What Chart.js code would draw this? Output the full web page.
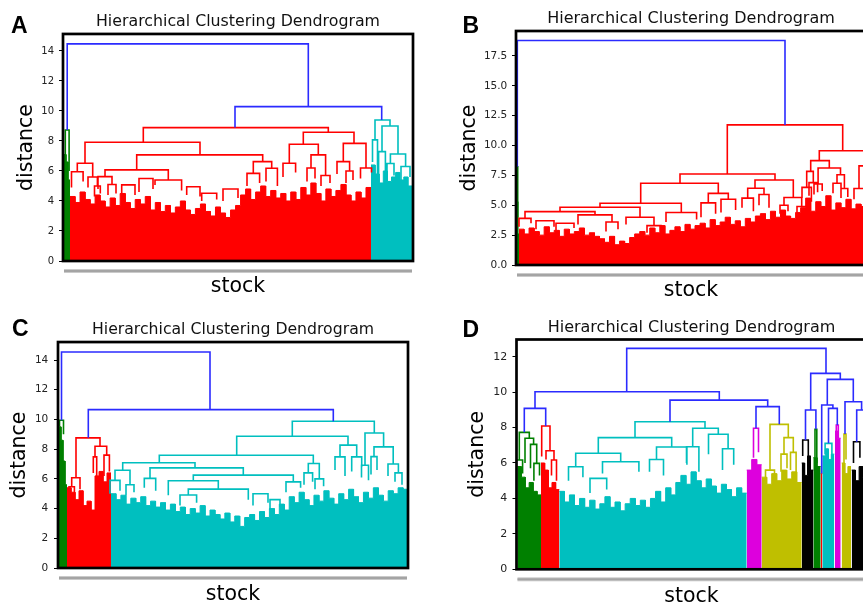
<!DOCTYPE html>
<html>
<head>
<meta charset="utf-8">
<title>Hierarchical Clustering Dendrograms</title>
<script src="https://cdn.jsdelivr.net/npm/chart.js@4.4.1/dist/chart.umd.min.js"></script>
<style>
  html, body { margin: 0; padding: 0; background: #fff; }
  body { position: relative; width: 863px; height: 606px; overflow: hidden; }
  canvas { position: absolute; }
  .letter { position: absolute; z-index: 2; font: bold 23px 'Liberation Sans', Arial, sans-serif; line-height: 23px; color: #000; }
</style>
</head>
<body>
<div class="letter" style="left:11px;top:13.5px">A</div>
<div class="letter" style="left:462.5px;top:13.5px">B</div>
<div class="letter" style="left:12px;top:317.2px">C</div>
<div class="letter" style="left:462.5px;top:317.5px">D</div>
<canvas id="chartA" width="440" height="300" style="left:0;top:0"></canvas>
<canvas id="chartB" width="440" height="305" style="left:440px;top:0"></canvas>
<canvas id="chartC" width="440" height="304" style="left:0;top:305px"></canvas>
<canvas id="chartD" width="440" height="304" style="left:440px;top:305px"></canvas>
<script>
// Merges: [left leaf pos, right leaf pos, merge distance,
// distance of left child, distance of right child, cluster]  (leaf axis 0-350)
// cluster 0 = links above the colour threshold

// --- A ---
const linksA = [
  [4.2, 245.3, 14.47, 8.73, 10.29, 0],
  [172, 318.7, 10.29, 8.89, 9.4, 0],
  [2.3, 6.1, 8.73, 7.1, 6.0, 1],
  [80.3, 265.3, 8.89, 7.91, 8.58, 2],
  [22, 137, 7.91, 6.51, 7.07, 2],
  [240.3, 291, 8.58, 7.78, 7.84, 2],
  [14.3, 29.7, 6.51, 5.95, 5.6, 2],
  [73.7, 199.7, 7.07, 6.07, 6.62, 2],
  [42, 105.3, 6.07, 5.62, 5.4, 2],
  [190.3, 208.7, 6.62, 5.84, 6.18, 2],
  [226.3, 255.3, 7.78, 6.51, 7.07, 2],
  [280.3, 303, 7.84, 6.62, 6.2, 2],
  [8.5, 20.1, 5.95, 4.9, 5.3, 2],
  [25, 34.4, 5.6, 4.9, 5.0, 2],
  [35, 49, 5.62, 4.8, 5.1, 2],
  [45, 53, 5.1, 4.4, 4.5, 2],
  [31.5, 37.3, 5.0, 4.3, 4.5, 2],
  [76, 90, 5.5, 4.6, 4.8, 2],
  [92, 118.6, 5.4, 5.07, 4.7, 2],
  [58.7, 72, 5.07, 4.5, 4.4, 2],
  [123.7, 137, 4.95, 4.4, 4.3, 2],
  [138.7, 153.7, 4.51, 4.0, 4.1, 2],
  [160, 175, 4.8, 4.0, 4.2, 2],
  [184, 196.6, 5.84, 5.0, 5.2, 2],
  [203, 214.4, 6.18, 5.3, 5.0, 2],
  [220, 232.6, 6.51, 5.6, 5.9, 2],
  [248, 262.6, 7.07, 6.2, 5.7, 2],
  [274, 286.6, 6.62, 5.8, 6.0, 2],
  [297.5, 308.5, 6.2, 5.5, 5.9, 2],
  [244, 252, 6.2, 5.3, 5.5, 2],
  [258, 267, 5.7, 5.0, 5.2, 2],
  [283, 290, 6.0, 5.2, 5.4, 2],
  [312, 327, 9.4, 8.07, 9.0, 3],
  [309.5, 314.5, 8.07, 6.6, 5.8, 3],
  [319, 335, 9.0, 7.29, 7.13, 3],
  [315.6, 322.4, 7.29, 5.8, 6.0, 3],
  [327.4, 342.6, 7.13, 6.5, 6.3, 3],
  [324, 331, 6.5, 5.5, 5.7, 3],
  [338, 347, 6.3, 5.4, 5.6, 3]
];
// dense lower part of each cluster: leaf span and merge heights read along it
const bandFromA = [1, 7, 308];
const bandToA = [7, 308, 349];
const bandClusterA = [1, 2, 3];
const bandHeightsA = [
  [7.1, 6.6, 5.4],
  [4.3, 3.9, 4.6, 4.1, 3.8, 4.4, 4.0, 3.6, 4.2, 3.7, 4.5, 3.9, 3.5, 4.1, 3.8, 4.3,
   3.4, 3.9, 3.3, 3.7, 3.2, 3.6, 4.0, 3.4, 3.1, 3.5, 3.8, 3.3, 3.0, 3.6,
   3.2, 2.9, 3.4, 3.7, 4.4, 4.8, 4.1, 4.6, 5.0, 4.3, 4.7, 4.2, 4.5, 4.0,
   4.6, 4.1, 4.9, 4.4, 5.2, 4.5, 4.0, 4.8, 4.3, 4.7, 5.1, 4.4, 4.0, 4.6, 4.2, 4.9],
  [6.4, 5.8, 5.2, 6.0, 5.3, 5.6, 5.9, 5.4, 5.6, 5.0]
];

// --- B ---
const linksB = [
  [1.3, 269, 18.79, 8.23, 11.73, 0],
  [0.9, 1.7, 8.23, 5.3, 4.0, 1],
  [211.3, 326.7, 11.73, 7.62, 9.57, 2],
  [303.3, 349.3, 9.57, 8.74, 8.3, 2],
  [164, 259, 7.62, 6.84, 7.12, 2],
  [124.7, 202.3, 6.84, 5.17, 6.0, 2],
  [239, 277.3, 7.12, 6.42, 5.65, 2],
  [294.7, 313.3, 8.74, 7.84, 8.12, 2],
  [290.7, 297.3, 7.84, 6.5, 6.9, 2],
  [302.1, 324.5, 8.12, 6.78, 7.56, 2],
  [321, 328.4, 7.56, 6.84, 6.4, 2],
  [343, 355, 8.3, 6.4, 6.0, 2],
  [84, 165.3, 5.17, 4.83, 4.4, 2],
  [44, 124, 4.83, 4.47, 4.0, 2],
  [9, 79, 4.47, 3.9, 4.2, 2],
  [150, 180.6, 4.4, 3.6, 3.8, 2],
  [192.3, 212.3, 6.0, 5.2, 5.5, 2],
  [231.7, 248, 6.42, 5.6, 5.9, 2],
  [268, 285.7, 5.65, 5.0, 4.9, 2],
  [110, 138, 4.0, 3.4, 3.3, 2],
  [3, 15, 3.9, 3.2, 3.5, 2],
  [62, 96, 4.2, 3.4, 3.6, 2],
  [20, 38, 3.7, 3.0, 3.2, 2],
  [40, 58, 3.5, 2.9, 3.1, 2],
  [90, 102, 3.6, 2.8, 3.0, 2],
  [131, 145, 3.3, 2.7, 2.9, 2],
  [185, 199.6, 5.2, 4.0, 4.3, 2],
  [205, 219.6, 5.5, 4.4, 4.6, 2],
  [226, 237.4, 5.6, 4.8, 4.5, 2],
  [243, 253, 5.9, 5.0, 4.8, 2],
  [264, 272, 5.0, 4.3, 4.5, 2],
  [281, 290.4, 4.9, 4.4, 4.2, 2],
  [286, 295.4, 6.5, 5.6, 5.3, 2],
  [293, 301.6, 6.9, 5.8, 6.1, 2],
  [298, 306.2, 6.78, 5.9, 6.2, 2],
  [317, 325, 6.84, 6.0, 5.8, 2],
  [325, 331.8, 6.4, 5.6, 5.7, 2],
  [338, 348, 6.4, 5.5, 5.8, 2]
];
const bandFromB = [0.5, 3];
const bandToB = [3, 350];
const bandClusterB = [1, 2];
const bandHeightsB = [
  [5.3, 2.6],
  [3.0, 2.6, 3.1, 2.8, 2.5, 3.2, 2.7, 2.9, 2.4, 3.0, 2.6, 2.8, 3.1, 2.5, 2.7, 2.4,
   2.2, 1.9, 2.4, 1.7, 2.0, 1.8, 2.3, 2.6,
   2.8, 2.5, 3.1, 2.7, 3.3, 2.6, 2.9, 3.2, 2.8, 3.4, 3.0, 3.3,
   3.5, 3.1, 3.8, 3.3, 3.6, 4.0, 3.4, 3.7, 3.2, 3.9, 3.6, 4.1,
   4.3, 3.8, 4.5, 4.0, 4.6, 4.1, 3.9, 4.4,
   4.8, 5.6, 4.5, 5.3, 4.9, 5.8, 4.6, 5.2, 4.8, 5.5, 4.7, 5.1, 4.9]
];

// --- C ---
const linksC = [
  [3.5, 152, 14.54, 9.95, 10.66, 0],
  [30.3, 275.3, 10.66, 8.76, 9.88, 0],
  [1.5, 5.5, 9.95, 9.5, 9.0, 1],
  [18, 42, 8.76, 6.07, 8.2, 2],
  [13.7, 22, 6.07, 5.47, 5.3, 2],
  [37, 48.7, 8.2, 7.48, 7.6, 2],
  [35.3, 38.7, 7.48, 6.4, 6.0, 2],
  [46, 51.4, 7.6, 6.2, 6.5, 2],
  [11, 16.4, 5.47, 4.6, 4.9, 2],
  [234.3, 316.3, 9.88, 8.87, 9.09, 3],
  [178.7, 290, 8.87, 7.59, 8.27, 3],
  [282, 298.7, 8.27, 7.48, 7.48, 3],
  [307, 325.6, 9.09, 6.92, 8.15, 3],
  [316, 335.2, 8.15, 7.5, 7.0, 3],
  [101.3, 255.3, 7.59, 7.08, 7.03, 3],
  [64.7, 137, 7.08, 6.58, 6.74, 3],
  [250.3, 261.3, 7.03, 6.4, 6.0, 3],
  [57, 72, 6.58, 5.9, 5.6, 3],
  [92, 185.3, 6.74, 6.03, 6.25, 3],
  [86.3, 97.7, 6.03, 5.4, 5.2, 3],
  [135.3, 235.3, 6.25, 5.87, 5.8, 3],
  [110.3, 160.3, 5.87, 4.9, 5.31, 3],
  [130.3, 190.3, 5.31, 4.91, 4.6, 3],
  [122, 138.6, 4.91, 4.2, 4.4, 3],
  [228, 242.6, 5.8, 5.1, 5.4, 3],
  [246, 254.6, 6.4, 5.6, 5.8, 3],
  [257, 265.6, 6.0, 5.3, 5.5, 3],
  [277, 287, 7.48, 6.6, 6.2, 3],
  [293.7, 303.7, 7.48, 6.5, 6.8, 3],
  [303.5, 310.5, 6.92, 6.1, 5.9, 3],
  [313, 319, 7.5, 6.3, 6.6, 3],
  [330, 340.4, 7.0, 6.2, 6.4, 3],
  [337, 344, 6.4, 5.8, 5.6, 3],
  [52, 62, 5.9, 5.0, 5.2, 3],
  [68, 76, 5.6, 4.9, 5.1, 3],
  [195, 210, 5.0, 4.2, 4.4, 3],
  [212, 222, 4.6, 3.9, 4.1, 3]
];
const bandFromC = [1, 9, 53];
const bandToC = [9, 53, 350];
const bandClusterC = [1, 2, 3];
const bandHeightsC = [
  [9.5, 8.6, 7.2, 5.6],
  [5.4, 5.1, 4.6, 5.2, 4.2, 4.5, 3.9, 6.2, 6.5, 5.8, 6.4],
  [5.0, 4.6, 4.9, 4.3, 4.7, 4.4, 4.8, 4.2, 4.5, 4.1,
   4.4, 3.9, 4.3, 3.8, 4.1, 3.6, 4.0, 3.7, 4.2, 3.5, 3.9, 3.6,
   3.3, 3.7, 3.1, 3.5, 2.8, 3.4, 3.6, 3.2,
   3.8, 3.4, 4.0, 3.6, 4.3, 3.9,
   4.8, 4.4, 5.1, 4.6, 4.2, 4.9, 4.5, 5.2, 4.7, 4.3, 5.0, 4.6, 5.3, 4.8, 4.4, 5.1,
   4.7, 5.4, 4.9, 4.5, 5.2, 5.0, 5.4, 5.3]
];

// --- D ---
const linksD = [
  [110.2, 309.5, 12.47, 10.02, 11.06, 0],
  [18.5, 202.8, 10.02, 9.08, 9.55, 0],
  [7.8, 29.2, 9.08, 7.73, 8.09, 0],
  [153.5, 251.2, 9.55, 8.33, 9.18, 0],
  [239.5, 262.8, 9.18, 7.96, 8.18, 0],
  [294.2, 323.8, 11.06, 8.99, 10.72, 0],
  [289, 299.4, 8.99, 7.3, 7.9, 0],
  [310.8, 336.8, 10.72, 9.27, 9.46, 0],
  [305.2, 316.4, 9.27, 5.4, 9.08, 0],
  [312, 320.8, 9.08, 7.11, 8.14, 0],
  [328.5, 345.1, 9.46, 7.63, 8.99, 0],
  [340.2, 350, 8.99, 7.2, 7.0, 0],
  [2.8, 12.8, 7.73, 6.17, 7.4, 1],
  [8.5, 17.1, 7.4, 6.0, 7.05, 1],
  [14.0, 20.2, 7.05, 5.7, 5.98, 1],
  [-0.5, 6.1, 6.17, 5.2, 5.4, 1],
  [17.4, 23, 5.98, 5.0, 5.3, 1],
  [298.5, 300.3, 7.9, 6.3, 6.0, 1],
  [25.2, 33.5, 8.09, 6.36, 6.69, 2],
  [29.5, 37.5, 6.69, 6.2, 6.17, 2],
  [35, 40, 6.17, 5.3, 5.0, 2],
  [118.5, 188.5, 8.33, 7.43, 7.96, 3],
  [81.8, 155.2, 7.43, 6.55, 6.9, 3],
  [59.2, 104.2, 6.55, 5.79, 6.07, 3],
  [52, 66.4, 5.79, 5.0, 5.2, 3],
  [86, 122.4, 6.07, 5.4, 5.5, 3],
  [140, 170.4, 6.9, 6.2, 5.9, 3],
  [176.2, 201.8, 7.96, 6.92, 7.62, 3],
  [170, 182.4, 6.92, 6.0, 5.5, 3],
  [192, 211.6, 7.62, 6.5, 6.8, 3],
  [206, 217.2, 6.8, 5.6, 5.9, 3],
  [133, 147, 6.2, 5.5, 5.3, 3],
  [73.5, 90.2, 5.13, 4.3, 4.5, 3],
  [308.6, 315.4, 7.11, 6.5, 6.0, 3],
  [237, 242, 7.96, 6.3, 6.6, 4],
  [319.8, 321.8, 8.14, 7.8, 7.4, 4],
  [253.5, 271.8, 8.18, 5.6, 7.43, 5],
  [267.5, 276.8, 7.43, 6.5, 6.6, 5],
  [249, 258, 5.6, 5.0, 5.2, 5],
  [264.5, 270.5, 6.5, 5.5, 5.7, 5],
  [274, 279.6, 6.6, 5.6, 5.4, 5],
  [327.5, 329.5, 7.63, 6.0, 6.2, 5],
  [286.2, 291.8, 7.3, 6.4, 6.0, 6],
  [337, 343.4, 7.2, 6.0, 6.3, 6]
];
const bandFromD = [0.8, 24.5, 42.8, 230.2, 245.2, 285.2, 296.8, 304.2, 305.8, 318.5, 325.2, 335.2];
const bandToD = [24.5, 42.8, 230.2, 245.2, 285.2, 296.8, 304.2, 305.8, 317.8, 324.2, 334.5, 350];
const bandClusterD = [1, 2, 3, 4, 5, 6, 1, 2, 3, 4, 5, 6];
const bandHeightsD = [
  [5.8, 5.2, 4.6, 4.9, 4.4, 4.2],
  [6.0, 5.6, 4.6, 4.9, 4.5],
  [4.4, 3.8, 4.2, 3.6, 4.0, 3.5, 3.9, 3.4, 3.7, 4.1, 3.5, 3.8, 3.3, 3.7, 4.0, 3.6, 3.9, 3.5,
   4.0, 4.4, 3.8, 4.6, 4.2, 4.9, 5.3, 4.8, 5.5, 5.0, 4.6, 5.1, 4.7, 4.3, 4.8, 4.5, 4.1, 4.6, 4.3],
  [5.6, 6.2, 5.9],
  [5.2, 4.8, 5.4, 5.0, 5.6, 5.1, 5.5, 4.9],
  [6.0, 5.3, 6.4, 5.6],
  [6.3, 5.8],
  [5.4],
  [6.4, 6.8, 6.2, 6.5],
  [7.8, 7.4],
  [6.0, 5.4, 5.8],
  [5.6, 5.0, 5.8, 5.2]
];

// colours per cluster (matplotlib default dendrogram palette)
const BLUE = '#2b2bff', GREEN = '#008000', RED = '#ff0000', CYAN = '#00bfbf',
      MAGENTA = '#dd00dd', YELLOW = '#bfbf00', BLACK = '#000000';

Chart.defaults.font.family = "'DejaVu Sans', sans-serif";
Chart.defaults.color = '#1a1a1a';

const frame = {
  id: 'frame',
  afterDraw(chart) {
    const { ctx, chartArea: a } = chart;
    ctx.save();
    // squeezed leaf labels under the axis
    ctx.fillStyle = '#cacaca';
    ctx.fillRect(a.left + 1, a.bottom + 8, a.right - a.left - 2, 4);
    ctx.fillStyle = '#a4a4a4';
    ctx.fillRect(a.left + 1, a.bottom + 9, a.right - a.left - 2, 2);
    ctx.lineWidth = 2.7;
    ctx.strokeStyle = '#000';
    ctx.strokeRect(a.left, a.top, a.right - a.left, a.bottom - a.top);
    ctx.restore();
  }
};

function linkPoints(links, cluster) {
  const pts = [];
  links.filter(l => l[5] === cluster).forEach(([l, r, top, lb, rb]) => {
    pts.push({ x: l, y: lb }, { x: l, y: top }, { x: r, y: top }, { x: r, y: rb }, { x: r, y: null });
  });
  return pts;
}

function bandPoints(from, to, heights) {
  const step = (to - from) / heights.length;
  const pts = [];
  heights.forEach((h, i) => {
    pts.push({ x: from + i * step, y: h }, { x: from + (i + 1) * step, y: h });
  });
  return pts;
}

function drawPanel(id, p) {
  const datasets = [];
  p.colours.forEach((c, k) => {
    const pts = linkPoints(p.links, k);
    if (pts.length) datasets.push({ data: pts, borderColor: c, borderWidth: 1.6, fill: false, order: 1 });
  });
  p.bandFrom.forEach((from, i) => {
    const c = p.colours[p.bandCluster[i]];
    datasets.push({
      data: bandPoints(from, p.bandTo[i], p.bandHeights[i]),
      borderColor: c, backgroundColor: c, borderWidth: 1, fill: 'origin', order: 2
    });
  });

  new Chart(document.getElementById(id), {
    type: 'line',
    data: { datasets },
    options: {
      responsive: false,
      animation: false,
      devicePixelRatio: 1,
      events: [],
      spanGaps: false,
      layout: { padding: { left: 0, right: p.padRight, top: 0, bottom: 0 } },
      elements: { point: { radius: 0 }, line: { tension: 0 } },
      plugins: {
        legend: { display: false },
        tooltip: { enabled: false },
        title: {
          display: true,
          text: 'Hierarchical Clustering Dendrogram',
          fullSize: false,
          color: '#111',
          font: { size: p.titleSize, weight: 'normal' },
          padding: { top: p.titleTop, bottom: p.titleBottom }
        }
      },
      scales: {
        x: {
          type: 'linear', min: 0, max: 350,
          ticks: { display: false },
          grid: { display: false },
          border: { display: false },
          title: { display: true, text: 'stock', color: '#000', font: { size: 20.5 }, padding: { top: 0, bottom: p.xTitlePad } },
          afterFit: s => { s.height = p.xHeight; }
        },
        y: {
          type: 'linear', min: 0, max: p.yMax,
          ticks: {
            stepSize: p.step, includeBounds: false, padding: p.tickPad, color: '#222',
            font: { size: p.tickSize },
            callback: v => Number(v).toFixed(p.decimals)
          },
          grid: { drawOnChartArea: false, drawTicks: true, tickLength: 4, color: '#000' },
          border: { display: false },
          title: { display: true, text: 'distance', color: '#000', font: { size: 20.5 }, padding: { top: p.yTitlePad, bottom: 0 } },
          afterFit: s => { s.width = p.yWidth; }
        }
      }
    },
    plugins: [frame]
  });
}

drawPanel('chartA', {
  links: linksA, bandFrom: bandFromA, bandTo: bandToA, bandCluster: bandClusterA, bandHeights: bandHeightsA,
  colours: [BLUE, GREEN, RED, CYAN],
  yMax: 15.13, step: 2, decimals: 0, tickSize: 10, tickPad: 5,
  yWidth: 63, xHeight: 39, padRight: 27,
  titleSize: 15.8, titleTop: 12.3, titleBottom: 2.7, yTitlePad: 13.9, xTitlePad: 1.5
});
drawPanel('chartB', {
  links: linksB, bandFrom: bandFromB, bandTo: bandToB, bandCluster: bandClusterB, bandHeights: bandHeightsB,
  colours: [BLUE, GREEN, RED],
  yMax: 19.59, step: 2.5, decimals: 1, tickSize: 10.5, tickPad: 4.7,
  yWidth: 76, xHeight: 40, padRight: 14,
  titleSize: 16, titleTop: 8.9, titleBottom: 2.9, yTitlePad: 17.3, xTitlePad: 2.1
});
drawPanel('chartC', {
  links: linksC, bandFrom: bandFromC, bandTo: bandToC, bandCluster: bandClusterC, bandHeights: bandHeightsC,
  colours: [BLUE, GREEN, RED, CYAN],
  yMax: 15.21, step: 2, decimals: 0, tickSize: 10.5, tickPad: 5.7,
  yWidth: 58, xHeight: 41, padRight: 32,
  titleSize: 15.7, titleTop: 15.1, titleBottom: 3.1, yTitlePad: 7.3, xTitlePad: 2.1
});
drawPanel('chartD', {
  links: linksD, bandFrom: bandFromD, bandTo: bandToD, bandCluster: bandClusterD, bandHeights: bandHeightsD,
  colours: [BLUE, GREEN, RED, CYAN, MAGENTA, YELLOW, BLACK],
  yMax: 12.97, step: 2, decimals: 0, tickSize: 11, tickPad: 5.2,
  yWidth: 76.5, xHeight: 39.7, padRight: 13.5,
  titleSize: 16, titleTop: 13.2, titleBottom: 2.1, yTitlePad: 25.6, xTitlePad: 0.5
});
</script>
</body>
</html>
